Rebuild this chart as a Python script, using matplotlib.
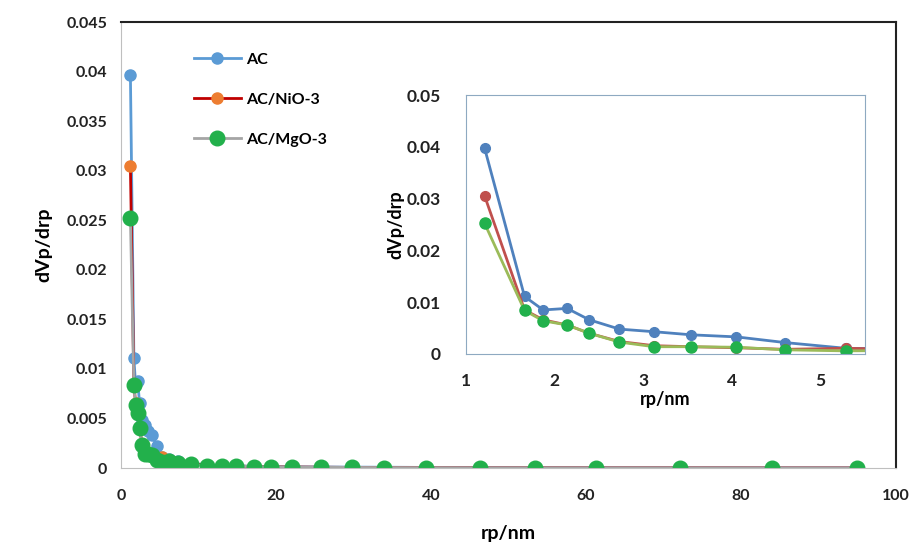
import matplotlib
matplotlib.use("Agg")
import matplotlib.pyplot as plt

# pore radius (nm), shared by the three samples
rp = [1.21, 1.66, 1.87, 2.14, 2.39, 2.73, 3.12, 3.54, 4.05, 4.60, 5.28, 6.2, 7.4, 9.0,
      11.1, 13.0, 14.8, 17.1, 19.4, 22.0, 25.8, 29.8, 33.9, 39.4, 46.3, 53.4, 61.3,
      72.1, 84.0, 94.9]

ac = [0.0397, 0.0111, 0.0085, 0.0088, 0.0066, 0.0048, 0.0043, 0.0037, 0.0033, 0.0022,
      0.0011, 0.0009, 0.0007, 0.0005, 0.0003, 0.00025, 0.0002, 0.00018, 0.00015, 0.00012,
      0.0001, 0.00009, 0.00008, 0.00006, 0.00005, 0.00004, 0.00003, 0.00003, 0.00002, 0.00002]

nio = [0.0305, 0.0085, 0.0066, 0.0056, 0.0040, 0.0024, 0.0016, 0.0014, 0.0012, 0.0009,
       0.0011, 0.0008, 0.0006, 0.0004, 0.0003, 0.0002, 0.0002, 0.00015, 0.00012, 0.0001,
       0.00008, 0.00006, 0.00005, 0.00004, 0.00003, 0.00003, 0.00002, 0.00002, 0.00001, 0.00001]

mgo = [0.0252, 0.0084, 0.0064, 0.0056, 0.0040, 0.0023, 0.0014, 0.0014, 0.0013, 0.0008,
       0.0006, 0.0007, 0.0005, 0.0004, 0.0002, 0.0002, 0.0002, 0.00015, 0.00012, 0.0001,
       0.00008, 0.00006, 0.00005, 0.00004, 0.00003, 0.00003, 0.00002, 0.00002, 0.00001, 0.00001]

etiquetas = ["AC", "AC/NiO-3", "AC/MgO-3"]

y_ticks = [0, 0.005, 0.01, 0.015, 0.02, 0.025, 0.03, 0.035, 0.04, 0.045]
y_tick_labels = ["0", "0.005", "0.01", "0.015", "0.02", "0.025", "0.03", "0.035", "0.04", "0.045"]
x_ticks = [0, 20, 40, 60, 80, 100]

inset_y_ticks = [0, 0.01, 0.02, 0.03, 0.04, 0.05]
inset_y_labels = ["0", "0.01", "0.02", "0.03", "0.04", "0.05"]
inset_x_ticks = [1, 2, 3, 4, 5]

plt.rcParams["font.family"] = ["Lato", "DejaVu Sans"]

fig = plt.figure(figsize=(9.12, 5.42), dpi=100)
ax = fig.add_axes([0.1327, 0.1365, 0.8498, 0.8229])

ax.plot(rp, ac, color="#5B9BD5", lw=2, marker="o", ms=8, mfc="#5B9BD5", mec="#5B9BD5",
        label=etiquetas[0])
ax.plot(rp, nio, color="#C00000", lw=2, marker="o", ms=8, mfc="#ED7D31", mec="#ED7D31",
        label=etiquetas[1])
ax.plot(rp, mgo, color="#A5A5A5", lw=2, marker="o", ms=10.5, mfc="#22B04B", mec="#22B04B",
        label=etiquetas[2])

ax.set_xlim(0, 100)
ax.set_ylim(0, 0.045)
ax.set_xticks(x_ticks)
ax.set_yticks(y_ticks)
ax.set_yticklabels(y_tick_labels)
ax.tick_params(length=0, labelsize=11.5)
ax.tick_params(axis="x", pad=15)
ax.tick_params(axis="y", pad=10)
for lab in ax.get_xticklabels() + ax.get_yticklabels():
    lab.set_fontweight("bold")
    lab.set_color("#222222")
ax.spines["left"].set_color("#BFBFBF")
ax.spines["bottom"].set_color("#BFBFBF")
ax.spines["top"].set_color("#222222")
ax.spines["right"].set_color("#222222")
ax.spines["top"].set_linewidth(1.5)
ax.spines["right"].set_linewidth(1.5)
ax.set_xlabel("rp/nm", fontsize=14, fontweight="bold", labelpad=16)
ax.set_ylabel("dVp/drp", fontsize=14, fontweight="bold", labelpad=10)

leg = ax.legend(loc="upper left", bbox_to_anchor=(0.075, 0.963), frameon=False,
                fontsize=11.5, handlelength=3.0, labelspacing=1.6, handletextpad=0.3)
for t in leg.get_texts():
    t.set_fontweight("bold")

# inset
axi = fig.add_axes([0.511, 0.3469, 0.4375, 0.4778])
axi.plot(rp, ac, color="#4F81BD", lw=2, marker="o", ms=7, mfc="#4F81BD", mec="#4F81BD")
axi.plot(rp, nio, color="#C0504D", lw=2, marker="o", ms=7, mfc="#C0504D", mec="#C0504D")
axi.plot(rp, mgo, color="#9BBB59", lw=2, marker="o", ms=8, mfc="#22B14C", mec="#22B14C")
axi.set_xlim(1, 5.5)
axi.set_ylim(0, 0.05)
axi.set_xticks(inset_x_ticks)
axi.set_yticks(inset_y_ticks)
axi.set_yticklabels(inset_y_labels)
axi.tick_params(length=0, labelsize=12.5)
axi.tick_params(axis="x", pad=14)
axi.tick_params(axis="y", pad=18)
for lab in axi.get_xticklabels() + axi.get_yticklabels():
    lab.set_fontweight("bold")
    lab.set_color("#222222")
for s in axi.spines.values():
    s.set_color("#8EA9C1")
axi.set_xlabel("rp/nm", fontsize=13, fontweight="bold", labelpad=1)
axi.set_ylabel("dVp/drp", fontsize=13, fontweight="bold", labelpad=2)

fig.savefig("out.png", dpi=100)
